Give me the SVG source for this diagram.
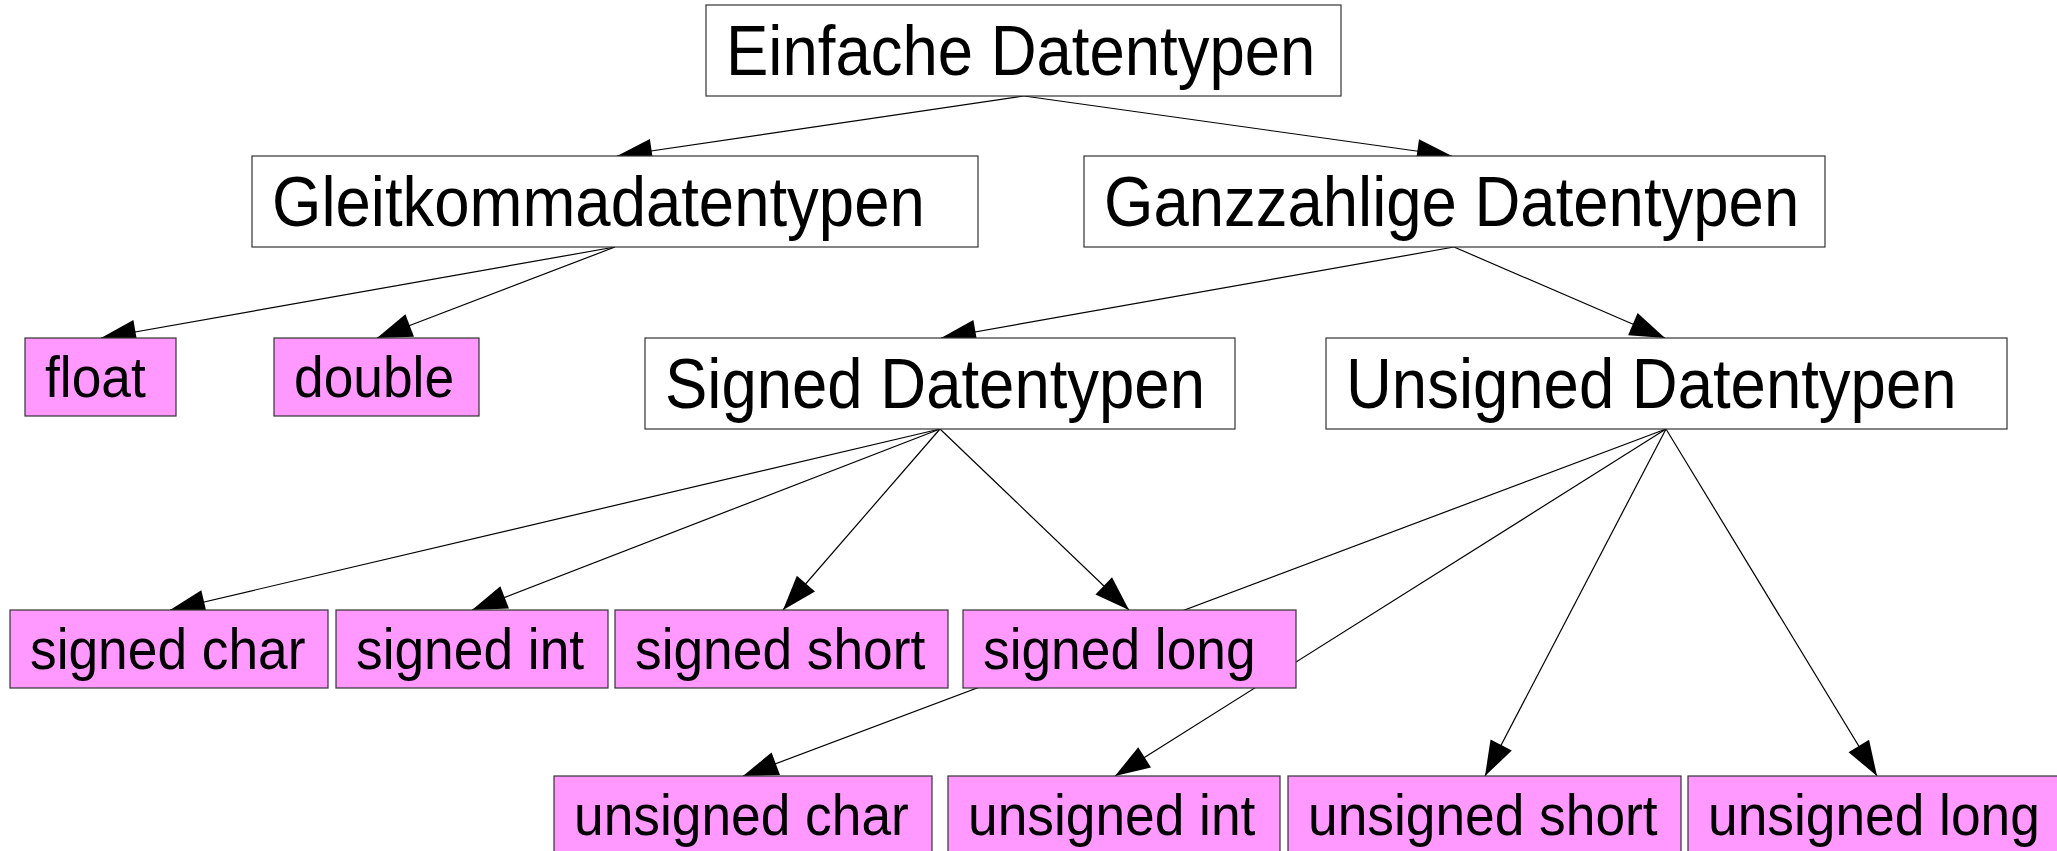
<svg xmlns="http://www.w3.org/2000/svg" width="2057" height="851" viewBox="0 0 2057 851">
<defs>
<marker id="arr" markerUnits="userSpaceOnUse" markerWidth="40" markerHeight="26" refX="35" refY="12" orient="auto" overflow="visible">
<path d="M0,0 L35,12 L0,24 z" fill="#000"/>
</marker>
<style>
.big rect{fill:#fff;stroke:#333;stroke-width:1.2}
.small rect{fill:#ff99ff;stroke:#333;stroke-width:1.2}
.big text{font-family:"Liberation Sans",Arial,sans-serif;font-size:70px;fill:#000}
.small text{font-family:"Liberation Sans",Arial,sans-serif;font-size:58px;fill:#000}
#connectors line{stroke:#000;stroke-width:1.2;marker-end:url(#arr)}
</style>
</defs>
<rect width="2057" height="851" fill="#fff"/>
<g id="connectors">
<line x1="1024" y1="96" x2="617" y2="156"/>
<line x1="1024" y1="96" x2="1452" y2="156"/>
<line x1="615" y1="247" x2="101" y2="338"/>
<line x1="615" y1="247" x2="377" y2="338"/>
<line x1="1454" y1="247" x2="941" y2="338"/>
<line x1="1454" y1="247" x2="1665" y2="338"/>
<line x1="940" y1="429" x2="170" y2="610"/>
<line x1="940" y1="429" x2="472" y2="610"/>
<line x1="940" y1="429" x2="783" y2="610"/>
<line x1="940" y1="429" x2="1129" y2="610"/>
<line x1="1666" y1="429" x2="743" y2="776"/>
<line x1="1666" y1="429" x2="1115" y2="776"/>
<line x1="1666" y1="429" x2="1485" y2="776"/>
<line x1="1666" y1="429" x2="1877" y2="776"/>
</g>
<g id="n-einfache" class="big"><rect x="706" y="5" width="635" height="91"/><text transform="matrix(0.907,0,0,1,726,75)">Einfache Datentypen</text></g>
<g id="n-gleitkomma" class="big"><rect x="252" y="156" width="726" height="91"/><text transform="matrix(0.907,0,0,1,272,226)">Gleitkommadatentypen</text></g>
<g id="n-ganzzahlig" class="big"><rect x="1084" y="156" width="741" height="91"/><text transform="matrix(0.907,0,0,1,1104,226)">Ganzzahlige Datentypen</text></g>
<g id="n-signed" class="big"><rect x="645" y="338" width="590" height="91"/><text transform="matrix(0.907,0,0,1,665,408)">Signed Datentypen</text></g>
<g id="n-unsigned" class="big"><rect x="1326" y="338" width="681" height="91"/><text transform="matrix(0.907,0,0,1,1346,408)">Unsigned Datentypen</text></g>
<g id="n-float" class="small"><rect x="25" y="338" width="151" height="78"/><text transform="matrix(0.919,0,0,1,45,397)">float</text></g>
<g id="n-double" class="small"><rect x="274" y="338" width="205" height="78"/><text transform="matrix(0.919,0,0,1,294,397)">double</text></g>
<g id="n-signed-char" class="small"><rect x="10" y="610" width="318" height="78"/><text transform="matrix(0.919,0,0,1,30,669)">signed char</text></g>
<g id="n-signed-int" class="small"><rect x="336" y="610" width="272" height="78"/><text transform="matrix(0.919,0,0,1,356,669)">signed int</text></g>
<g id="n-signed-short" class="small"><rect x="615" y="610" width="333" height="78"/><text transform="matrix(0.919,0,0,1,635,669)">signed short</text></g>
<g id="n-signed-long" class="small"><rect x="963" y="610" width="333" height="78"/><text transform="matrix(0.919,0,0,1,983,669)">signed long</text></g>
<g id="n-unsigned-char" class="small"><rect x="554" y="776" width="378" height="78"/><text transform="matrix(0.919,0,0,1,574,835)">unsigned char</text></g>
<g id="n-unsigned-int" class="small"><rect x="948" y="776" width="332" height="78"/><text transform="matrix(0.919,0,0,1,968,835)">unsigned int</text></g>
<g id="n-unsigned-short" class="small"><rect x="1288" y="776" width="393" height="78"/><text transform="matrix(0.919,0,0,1,1308,835)">unsigned short</text></g>
<g id="n-unsigned-long" class="small"><rect x="1688" y="776" width="378" height="78"/><text transform="matrix(0.919,0,0,1,1708,835)">unsigned long</text></g>
</svg>
